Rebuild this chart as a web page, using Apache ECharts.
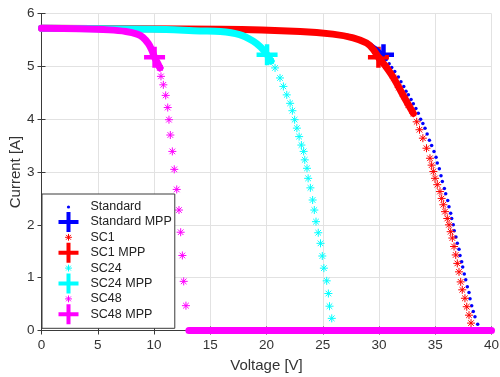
<!DOCTYPE html>
<html>
<head>
<meta charset="utf-8">
<script src="https://cdn.jsdelivr.net/npm/echarts@6/dist/echarts.min.js"></script>
<style>
html, body { margin: 0; padding: 0; background: #fff; }
#chart { width: 500px; height: 377px; }
</style>
</head>
<body>
<div id="chart"></div>
<script>
// values (voltage [V], current [A])
var xTicks = [0, 5, 10, 15, 20, 25, 30, 35, 40];
var yTicks = [0, 1, 2, 3, 4, 5, 6];

var stdCurve = [[0, 5.72], [12, 5.71], [23, 5.67], [26, 5.62], [27.7, 5.56], [28.9, 5.46], [29.7, 5.35], [30.4, 5.22]];
var stdDots = [[30.65, 5.13], [30.9, 5.05], [31.13, 4.98], [31.4, 4.9], [31.72, 4.8], [31.95, 4.71], [32.2, 4.62],
    [32.4, 4.53], [32.61, 4.46], [32.85, 4.37], [33.05, 4.29], [33.28, 4.2], [33.49, 4.11], [33.7, 4.0], [33.9, 3.92],
    [34.09, 3.83], [34.28, 3.72], [34.48, 3.6], [34.68, 3.5], [34.89, 3.39], [35.07, 3.28], [35.18, 3.17], [35.36, 3.06],
    [35.51, 2.93], [35.63, 2.82], [35.81, 2.69], [35.93, 2.59], [36.11, 2.46], [36.22, 2.34], [36.37, 2.22], [36.46, 2.12],
    [36.6, 2.0], [36.69, 1.89], [36.84, 1.77], [36.96, 1.65], [37.11, 1.54], [37.2, 1.42], [37.35, 1.3], [37.44, 1.2],
    [37.58, 1.07], [37.71, 0.96], [37.85, 0.83], [38.0, 0.72], [38.09, 0.6], [38.24, 0.47], [38.38, 0.36], [38.53, 0.26],
    [38.77, 0.12]];
var stdMpp = [[30.4, 5.22]];

var sc1Curve = [[0, 5.72], [16, 5.7], [23, 5.66], [25.9, 5.61], [27.7, 5.54], [28.9, 5.44], [29.5, 5.32], [29.95, 5.17],
    [30.6, 5.0], [31.3, 4.78], [32.2, 4.43], [33.05, 4.11]];
var sc1Stars = [[30.6, 5.0], [31.3, 4.78], [31.75, 4.6], [32.2, 4.43], [32.6, 4.27], [33.05, 4.11], [33.35, 3.95],
    [33.6, 3.8], [33.9, 3.64], [34.22, 3.45], [34.53, 3.26], [34.68, 3.13], [34.83, 3.01], [34.98, 2.88], [35.18, 2.76],
    [35.42, 2.63], [35.57, 2.5], [35.72, 2.38], [35.87, 2.25], [36.07, 2.12], [36.22, 2.0], [36.37, 1.87], [36.52, 1.75],
    [36.67, 1.59], [36.82, 1.43], [36.96, 1.27], [37.11, 1.11], [37.26, 0.92], [37.4, 0.77], [37.64, 0.61], [37.8, 0.45],
    [38.0, 0.29], [38.18, 0.14]];
var sc1Mpp = [[29.95, 5.17]];

var sc24Curve = [[0, 5.72], [10, 5.7], [14.1, 5.67], [15.9, 5.66], [17.6, 5.6], [18.8, 5.48], [19.5, 5.36], [20.05, 5.22],
    [20.4, 5.1]];
var sc24Stars = [[20.4, 5.1], [20.76, 4.97], [21.2, 4.78], [21.5, 4.62], [21.8, 4.46], [22.1, 4.3], [22.3, 4.16], [22.5, 3.99],
    [22.7, 3.83], [22.9, 3.67], [23.1, 3.51], [23.3, 3.39], [23.4, 3.23], [23.6, 3.07], [23.7, 2.88], [23.9, 2.7],
    [24.1, 2.47], [24.25, 2.28], [24.4, 2.06], [24.6, 1.85], [24.8, 1.65], [24.96, 1.41], [25.1, 1.18], [25.35, 0.94],
    [25.5, 0.7], [25.6, 0.46], [25.8, 0.23]];
var sc24Mpp = [[20.05, 5.22]];

var sc48Curve = [[0, 5.72], [3.4, 5.71], [6, 5.69], [7.5, 5.66], [8.5, 5.61], [9, 5.55], [9.5, 5.43], [9.8, 5.31],
    [10.05, 5.17], [10.3, 5.07], [10.53, 4.97]];
var sc48Stars = [[10.53, 4.97], [10.62, 4.81], [10.83, 4.65], [11.04, 4.45], [11.22, 4.22], [11.33, 3.99], [11.45, 3.7],
    [11.63, 3.39], [11.8, 3.05], [12.02, 2.67], [12.22, 2.28], [12.37, 1.86], [12.52, 1.42], [12.64, 0.93], [12.84, 0.47]];
var sc48Zero = [[13.1, 0], [40, 0]];
var sc48Mpp = [[10.05, 5.17]];

var seriesNames = ['Standard', 'Standard MPP', 'SC1', 'SC1 MPP', 'SC24', 'SC24 MPP', 'SC48', 'SC48 MPP'];

var BLUE = '#0000ff', RED = '#ff0000', CYAN = '#00ffff', MAGENTA = '#ff00ff';
var FONT = '"Liberation Sans", Arial, sans-serif';

var starPath = 'path://M0 4L8 4M4 0L4 8M1.2 1.2L6.8 6.8M1.2 6.8L6.8 1.2';
var plusPath = 'path://M0 10L20 10M10 0L10 20';
// legend icons keep a 20x20 frame so small marks stay small (filled plus, no stroke -> no overflow)
var dotIcon = 'path://M0 0M20 20M10 8.4a1.6 1.6 0 1 1 0 3.2a1.6 1.6 0 1 1 0 -3.2z';
var starIcon = 'path://M0 0M20 20M6.6 10L13.4 10M10 6.6L10 13.4M7.6 7.6L12.4 12.4M7.6 12.4L12.4 7.6';
var plusIcon = 'path://M0 0M20 20M8 0L12 0L12 8L20 8L20 12L12 12L12 20L8 20L8 12L0 12L0 8L8 8Z';

function band(name, data, color, width) {
    return {
        name: name, type: 'line', data: data, symbol: 'none', smooth: 0.3, clip: false,
        lineStyle: { color: color, width: width, cap: 'round', join: 'round' },
        emphasis: { disabled: true }, silent: true
    };
}
function marks(name, data, color, symbol, size, bw) {
    return {
        name: name, type: 'scatter', data: data, symbol: symbol, symbolSize: size, clip: false,
        itemStyle: { color: color, borderColor: color, borderWidth: bw, opacity: 1 },
        emphasis: { disabled: true }, silent: true
    };
}

var chart = echarts.init(document.getElementById('chart'));

var axisLine = { show: true, lineStyle: { color: '#3a3a3a', width: 1 } };
var option = {
    animation: false,
    grid: { left: 41.5, right: 8.5, top: 13.5, bottom: 46.5, containLabel: false, outerBoundsMode: 'none' },
    legend: {
        orient: 'vertical', left: 42, top: 194,
        padding: [3, 3, 4, 16],
        itemWidth: 34, itemHeight: 20, itemGap: -5.1,
        backgroundColor: '#fff', borderColor: '#3a3a3a', borderWidth: 1,
        selectedMode: false,
        textStyle: { fontFamily: FONT, fontSize: 12.5, color: '#222' },
        data: [
            { name: seriesNames[0], icon: dotIcon, itemStyle: { color: BLUE, borderWidth: 0 } },
            { name: seriesNames[1], icon: plusIcon, itemStyle: { color: BLUE, borderWidth: 0 } },
            { name: seriesNames[2], icon: starIcon, itemStyle: { color: RED, borderColor: RED, borderWidth: 1 } },
            { name: seriesNames[3], icon: plusIcon, itemStyle: { color: RED, borderWidth: 0 } },
            { name: seriesNames[4], icon: starIcon, itemStyle: { color: CYAN, borderColor: CYAN, borderWidth: 1 } },
            { name: seriesNames[5], icon: plusIcon, itemStyle: { color: CYAN, borderWidth: 0 } },
            { name: seriesNames[6], icon: starIcon, itemStyle: { color: MAGENTA, borderColor: MAGENTA, borderWidth: 1 } },
            { name: seriesNames[7], icon: plusIcon, itemStyle: { color: MAGENTA, borderWidth: 0 } }
        ]
    },
    xAxis: [{
        type: 'value', min: xTicks[0], max: xTicks[xTicks.length - 1], interval: 5,
        name: 'Voltage [V]', nameLocation: 'middle', nameGap: 28,
        nameTextStyle: { fontFamily: FONT, fontSize: 15, color: '#333' },
        axisLine: axisLine,
        axisTick: { show: true, inside: true, length: 4, lineStyle: { color: '#3a3a3a' } },
        axisLabel: { fontFamily: FONT, fontSize: 13.5, color: '#333', margin: 8 },
        splitLine: { show: true, lineStyle: { color: '#e2e2e2', width: 1 } }
    }, {
        type: 'value', position: 'top', min: xTicks[0], max: xTicks[xTicks.length - 1], interval: 5,
        axisLine: axisLine,
        axisTick: { show: true, inside: true, length: 4, lineStyle: { color: '#3a3a3a' } },
        axisLabel: { show: false }, splitLine: { show: false }
    }],
    yAxis: [{
        type: 'value', min: yTicks[0], max: yTicks[yTicks.length - 1], interval: 1,
        name: 'Current [A]', nameLocation: 'middle', nameGap: 18, nameMoveOverlap: false,
        nameTextStyle: { fontFamily: FONT, fontSize: 15, color: '#333' },
        axisLine: axisLine,
        axisTick: { show: true, inside: true, length: 4, lineStyle: { color: '#3a3a3a' } },
        axisLabel: { fontFamily: FONT, fontSize: 13.5, color: '#333', margin: 7 },
        splitLine: { show: true, lineStyle: { color: '#e2e2e2', width: 1 } }
    }, {
        type: 'value', position: 'right', min: yTicks[0], max: yTicks[yTicks.length - 1], interval: 1,
        axisLine: axisLine,
        axisTick: { show: true, inside: true, length: 4, lineStyle: { color: '#3a3a3a' } },
        axisLabel: { show: false }, splitLine: { show: false }
    }],
    series: [
        band(seriesNames[0], stdCurve, BLUE, 3.5),
        marks(seriesNames[0], stdDots, BLUE, 'circle', 3.5, 0),
        marks(seriesNames[1], stdMpp, BLUE, plusPath, 21, 4.5),
        band(seriesNames[2], sc1Curve, RED, 7),
        marks(seriesNames[2], sc1Stars, RED, starPath, 8, 1),
        marks(seriesNames[3], sc1Mpp, RED, plusPath, 21, 4.5),
        band(seriesNames[4], sc24Curve, CYAN, 7),
        marks(seriesNames[4], sc24Stars, CYAN, starPath, 8, 1),
        marks(seriesNames[5], sc24Mpp, CYAN, plusPath, 21, 4.5),
        band(seriesNames[6], sc48Curve, MAGENTA, 7),
        marks(seriesNames[6], sc48Stars, MAGENTA, starPath, 8, 1),
        band(seriesNames[6], sc48Zero, MAGENTA, 7),
        marks(seriesNames[7], sc48Mpp, MAGENTA, plusPath, 21, 4.5)
    ]
};
chart.setOption(option);
</script>
</body>
</html>
